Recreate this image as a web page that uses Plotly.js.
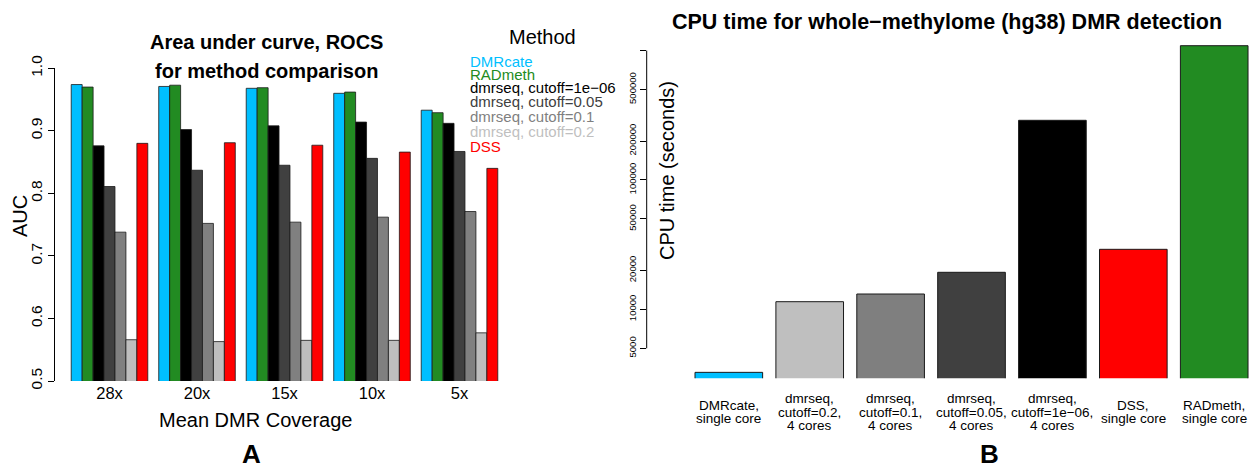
<!DOCTYPE html>
<html>
<head>
<meta charset="utf-8">
<script src="https://cdn.plot.ly/plotly-3.0.1.min.js"></script>
<style>
  html, body { margin: 0; padding: 0; background: #ffffff; }
  #chart { width: 1249px; height: 467px; }
</style>
</head>
<body>
<div id="chart"></div>
<script>
// ---------- Panel A: AUC of ROC curves by mean DMR coverage ----------
const coverage = ["28x", "20x", "15x", "10x", "5x"];
const aucDMRcate    = [0.974, 0.971, 0.968, 0.960, 0.933];
const aucRADmeth    = [0.970, 0.973, 0.969, 0.962, 0.929];
const aucDmrseq1e06 = [0.876, 0.902, 0.908, 0.914, 0.912];
const aucDmrseq005  = [0.811, 0.837, 0.845, 0.856, 0.867];
const aucDmrseq01   = [0.738, 0.752, 0.754, 0.762, 0.771];
const aucDmrseq02   = [0.566, 0.563, 0.565, 0.565, 0.577];
const aucDSS        = [0.880, 0.881, 0.877, 0.866, 0.840];
const aucTicks = [0.5, 0.6, 0.7, 0.8, 0.9, 1.0];
const aucTickText = ["0.5", "0.6", "0.7", "0.8", "0.9", "1.0"];

const methodNames = ["DMRcate", "RADmeth", "dmrseq, cutoff=1e\u221206",
                     "dmrseq, cutoff=0.05", "dmrseq, cutoff=0.1",
                     "dmrseq, cutoff=0.2", "DSS"];
const methodAUC = [aucDMRcate, aucRADmeth, aucDmrseq1e06, aucDmrseq005,
                   aucDmrseq01, aucDmrseq02, aucDSS];

// ---------- Panel B: CPU time for whole-methylome DMR calling ----------
const cpuLabels = ["DMRcate,\nsingle core",
                   "dmrseq,\ncutoff=0.2,\n4 cores",
                   "dmrseq,\ncutoff=0.1,\n4 cores",
                   "dmrseq,\ncutoff=0.05,\n4 cores",
                   "dmrseq,\ncutoff=1e\u221206,\n4 cores",
                   "DSS,\nsingle core",
                   "RADmeth,\nsingle core"];
const cpuSeconds = [3260, 11460, 13140, 19330, 289000, 29100, 1090000];
const cpuTicks = [5000, 10000, 20000, 50000, 100000, 200000, 500000, 1000000];
const cpuTickText = ["5000", "10000", "20000", "50000", "100000", "200000", "500000", ""];

// ---------- styling ----------
const FONT = "Liberation Sans, Arial, Helvetica, sans-serif";
const methodColors = ["#00BFFF", "#228B22", "#000000", "#404040", "#808080", "#BEBEBE", "#FF0000"];
const legendColors = ["#00BFFF", "#228B22", "#000000", "#404040", "#7F7F7F", "#BFBFBF", "#FF0000"];
const cpuColors = ["#00BFFF", "#BFBFBF", "#7F7F7F", "#404040", "#000000", "#FF0000", "#228B22"];

const W = 1249, H = 467;
const px = v => v / W;        // pixel column -> paper x
const py = v => 1 - v / H;    // pixel row    -> paper y

const traces = [];
methodAUC.forEach((vals, i) => {
  traces.push({
    type: "bar", x: coverage, y: vals, name: methodNames[i],
    xaxis: "x", yaxis: "y", showlegend: false,
    marker: { color: methodColors[i], line: { color: "#1a1a1a", width: 0.8 } }
  });
});
traces.push({
  type: "bar", x: cpuLabels, y: cpuSeconds, xaxis: "x2", yaxis: "y2",
  showlegend: false, width: cpuLabels.map(() => 0.836),
  marker: { color: cpuColors, line: { color: "#1a1a1a", width: 1 } }
});

const ann = [];
function text(t, x, y, size, opts) {
  ann.push(Object.assign({
    text: t, xref: "paper", yref: "paper", x: px(x), y: py(y),
    xanchor: "center", yanchor: "middle", showarrow: false,
    font: { family: FONT, size: size, color: "#000000" }
  }, opts || {}));
}

// panel A titles and axis labels
text("Area under curve, ROCS", 266.5, 42, 20, { font: { family: FONT, size: 20, color: "#000", weight: "bold" } });
text("for method comparison", 266.5, 70.5, 20, { font: { family: FONT, size: 20, color: "#000", weight: "bold" } });
text("AUC", 20, 216, 20, { textangle: -90 });
text("Mean DMR Coverage", 255, 420, 20);
text("Method", 542, 37.5, 20);

// colour-keyed method list
const keyRows = [61.7, 74.8, 88, 101.5, 116, 131, 146.5];
methodNames.forEach((m, i) => {
  text(m, 467.5, keyRows[i], 15, {
    xanchor: "left", font: { family: FONT, size: 15, color: legendColors[i] }
  });
});

// panel B titles
text("CPU time for whole\u2212methylome (hg38) DMR detection", 947, 22, 21.5, { font: { family: FONT, size: 21.5, color: "#000", weight: "bold" } });
text("CPU time (seconds)", 667, 171, 20, { textangle: -90 });

// multi-line category labels under panel B bars
const lineGap = 13.5, labelMid = 412;
cpuLabels.forEach(lbl => {
  const lines = lbl.split("\n");
  lines.forEach((ln, j) => {
    ann.push({
      text: ln, xref: "x2", yref: "paper", x: lbl,
      y: py(labelMid + (j - (lines.length - 1) / 2) * lineGap),
      xanchor: "center", yanchor: "middle", showarrow: false,
      font: { family: FONT, size: 13.5, color: "#000" }
    });
  });
});

// panel letters
const letterStyle = { font: { family: FONT, size: 26, color: "#000", weight: "bold" } };
text("A", 251.5, 454, 26, letterStyle);
text("B", 990, 454, 26, letterStyle);

const layout = {
  width: W, height: H,
  margin: { l: 0, r: 0, t: 0, b: 0, pad: 0 },
  paper_bgcolor: "#ffffff", plot_bgcolor: "rgba(0,0,0,0)",
  font: { family: FONT, color: "#000" },
  barmode: "group", bargap: 0.125, bargroupgap: 0,
  hovermode: false, showlegend: false,
  xaxis: {
    domain: [px(55), px(503)], anchor: "y", type: "category",
    range: [-0.623, 4.497], showline: false, ticks: "", showgrid: false,
    zeroline: false, tickfont: { family: FONT, size: 16.5, color: "#000" },
    fixedrange: true
  },
  yaxis: {
    domain: [py(381), py(68.3)], anchor: "x", range: [0.5, 1.0],
    tickvals: aucTicks, ticktext: aucTickText, tickangle: -90,
    ticks: "outside", ticklen: 6, tickwidth: 1, tickcolor: "#000",
    showline: true, linecolor: "#000", linewidth: 1,
    showgrid: false, zeroline: false,
    tickfont: { family: FONT, size: 15.5, color: "#000" }, fixedrange: true
  },
  xaxis2: {
    domain: [px(646.7), 1], anchor: "y2", type: "category",
    range: [-1.015, 6.43], showticklabels: false, ticks: "",
    showline: false, showgrid: false, zeroline: false, fixedrange: true
  },
  yaxis2: {
    domain: [py(378.3), py(40)], anchor: "x2", type: "log",
    range: [3.4672, 6.0815],
    tickvals: cpuTicks, ticktext: cpuTickText, tickangle: -90,
    ticks: "outside", ticklen: 6, tickwidth: 1, tickcolor: "#000",
    showline: false, showgrid: false, zeroline: false,
    tickfont: { family: FONT, size: 9.5, color: "#000" }, fixedrange: true
  },
  shapes: [{
    type: "line", xref: "paper", yref: "y2",
    x0: px(646.7), x1: px(646.7), y0: cpuTicks[0], y1: cpuTicks[cpuTicks.length - 1],
    line: { color: "#000", width: 1 }
  }],
  annotations: ann
};

Plotly.newPlot("chart", traces, layout, { staticPlot: true, displayModeBar: false });
</script>
</body>
</html>
